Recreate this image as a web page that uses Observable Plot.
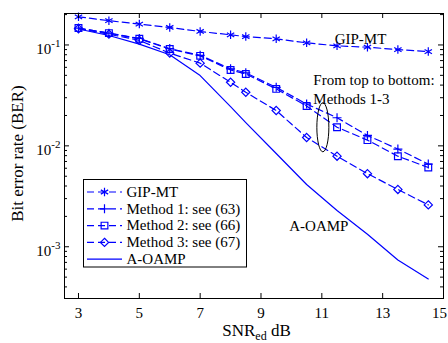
<!DOCTYPE html>
<html><head><meta charset="utf-8">
<script src="https://cdn.jsdelivr.net/npm/d3@7"></script>
<script src="https://cdn.jsdelivr.net/npm/@observablehq/plot@0.6"></script>
<style>
html,body{margin:0;padding:0;background:#fff;}
#chart{width:448px;height:343px;overflow:hidden;}
svg{display:block;}
#chart svg, #chart svg text, #chart svg tspan{font-family:"Liberation Serif","Times New Roman",Times,Tinos,"DejaVu Serif",serif !important;}
</style></head><body><div id="chart"></div>
<script>
const snr = [3,4,5,6,7,8,8.5,9.5,10.5,11.5,12.5,13.5,14.5];
const gipMT = [0.19,0.174,0.161,0.149,0.136,0.126,0.121,0.115,0.105,0.098,0.095,0.090,0.086];
const method1 = [0.147,0.131,0.116,0.092,0.079,0.058,0.053,0.038,0.026,0.019,0.0127,0.0093,0.0066];
const method2 = [0.147,0.131,0.115,0.091,0.078,0.0565,0.0516,0.0367,0.0248,0.0153,0.0114,0.0079,0.0061];
const method3 = [0.145,0.128,0.111,0.083,0.066,0.0427,0.034,0.0224,0.0121,0.0079,0.0053,0.0037,0.0026];
const aOAMP = [0.144,0.124,0.102,0.080,0.0497,0.0245,0.0170,0.0084,0.00414,0.00229,0.00133,0.00074,0.00048];
const seriesNames = ["GIP-MT","Method 1: see (63)","Method 2: see (66)","Method 3: see (67)","A-OAMP"];
const xTicks = [3,5,7,9,11,13,15];
const yMajor = [1e-3,1e-2,1e-1];
const yMinorFactors = [2,3,4,5,6,7,8,9];

const W = 448, H = 343, mL = 64, mR = 5, mT = 13, mB = 45;
const FW = W - mL - mR, FH = H - mT - mB;
const yDomain = [3.07e-4, 0.205];
const yMinor = [];
for (const dec of [1e-4,1e-3,1e-2,1e-1]) for (const f of yMinorFactors) {
  const v = f*dec; if (v >= yDomain[0] && v <= yDomain[1]) yMinor.push(v);
}
const blue = "#0000ff";
const FONT = '"Liberation Serif","Times New Roman",Times,serif';

const seriesVals = [gipMT, method1, method2, method3, aOAMP];
const symbols = ["asterisk","plus","square","diamond2",null];
const radii = [4, 3, 3.8, 3.7, 0];
const toRows = (vals) => snr.map((x,i) => ({x, y: vals[i]}));

const marks = [];
seriesVals.forEach((vals, k) => {
  marks.push(Plot.line(toRows(vals), {x:"x", y:"y", stroke: blue, strokeWidth: 1.2,
    strokeDasharray: k < 4 ? "7,4" : null}));
});
seriesVals.forEach((vals, k) => {
  if (!symbols[k]) return;
  marks.push(Plot.dot(toRows(vals), {x:"x", y:"y", symbol: symbols[k], r: radii[k],
    stroke: blue, fill: "none", strokeWidth: 1.2}));
});
// inward ticks
marks.push(Plot.tickY(yMajor, {y: d=>d, insetRight: FW-5, stroke:"black"}));
marks.push(Plot.tickY(yMajor, {y: d=>d, insetLeft: FW-5, stroke:"black"}));
marks.push(Plot.tickY(yMinor, {y: d=>d, insetRight: FW-3, stroke:"black"}));
marks.push(Plot.tickY(yMinor, {y: d=>d, insetLeft: FW-3, stroke:"black"}));
marks.push(Plot.tickX(xTicks, {x: d=>d, insetTop: FH-5, stroke:"black"}));
marks.push(Plot.tickX(xTicks, {x: d=>d, insetBottom: FH-5, stroke:"black"}));
marks.push(Plot.frame({stroke:"black", strokeWidth: 1}));
marks.push(Plot.axisX(xTicks, {tickSize: 0, tickPadding: 9, fontSize: 15, label: null}));
marks.push(Plot.axisY(yMajor, {tickSize: 0, tickPadding: 4, fontSize: 15, label: null,
  tickFormat: d => "10^" + Math.round(Math.log10(d))}));
// annotations
marks.push(Plot.text(["GIP-MT"], {x: 12.27, y: 0.113, text: d=>d, fontSize: 15, fill:"black", textAnchor:"middle"}));
marks.push(Plot.text(["From top to bottom:"], {x: 10.72, y: 0.0443, text: d=>d, fontSize: 15, fill:"black", textAnchor:"start"}));
marks.push(Plot.text(["Methods 1-3"], {x: 10.72, y: 0.0293, text: d=>d, fontSize: 15, fill:"black", textAnchor:"start"}));
marks.push(Plot.text(["A-OAMP"], {x: 9.93, y: 0.00161, text: d=>d, fontSize: 15, fill:"black", textAnchor:"start"}));

const plot = Plot.plot({
  width: W, height: H,
  marginLeft: mL, marginRight: mR, marginTop: mT, marginBottom: mB,
  style: {fontSize: "15px", background: "white", color: "black", overflow: "visible"},
  x: {domain: [2.54, 15]},
  y: {type: "log", domain: yDomain},
  marks
});
document.getElementById("chart").appendChild(plot);
const svg = d3.select(plot);
const xs = plot.scale("x"), ys = plot.scale("y");

// superscripts on y tick labels
svg.selectAll('g[aria-label="y-axis tick label"] text').each(function(){
  const t = this.textContent; const parts = t.split("^");
  const el = d3.select(this); el.text("");
  el.append("tspan").attr("dy", 4).text(parts[0]);
  el.append("tspan").attr("dy", -7).attr("font-size", 11).text(parts[1]);
});
// keep the last x tick label inside the picture
const xl = svg.selectAll('g[aria-label="x-axis tick label"] text').nodes();
if (xl.length) d3.select(xl[xl.length - 1]).attr("dx", -4);

// ellipse annotation
svg.append("ellipse").attr("cx", xs.apply(11.05)).attr("cy", ys.apply(0.0151))
  .attr("rx", 6).attr("ry", 24.5).attr("fill","none").attr("stroke","black").attr("stroke-width",1);

// axis titles
const xt = svg.append("text").attr("x", (mL + W - mR)/2 + 3).attr("y", 335.5)
  .attr("text-anchor","middle").attr("font-family", FONT).attr("font-size", 17).attr("fill","black");
xt.append("tspan").text("SNR");
xt.append("tspan").attr("dy", 4).attr("font-size", 12).text("ed");
xt.append("tspan").attr("dy", -4).text(" dB");
svg.append("text").attr("transform", `translate(23,${(mT + H - mB)/2 - 2}) rotate(-90)`)
  .attr("text-anchor","middle").attr("font-family", FONT).attr("font-size", 17).attr("fill","black")
  .text("Bit error rate (BER)");

// legend
const lg = svg.append("g").attr("font-family", FONT).attr("font-size", 15).attr("text-anchor","start");
lg.append("rect").attr("x", 83.5).attr("y", 179.5).attr("width", 163).attr("height", 87.5)
  .attr("fill","white").attr("stroke","black").attr("stroke-width",1);
const rowY = [192, 208.8, 225.6, 242.4, 259.2];
const d3sym = {asterisk: d3.symbolAsterisk, plus: d3.symbolPlus, square: d3.symbolSquare, diamond2: d3.symbolDiamond2};
seriesNames.forEach((name, k) => {
  const y = rowY[k];
  lg.append("line").attr("x1", 87).attr("x2", 122).attr("y1", y).attr("y2", y)
    .attr("stroke", blue).attr("stroke-width", 1.2).attr("stroke-dasharray", k < 4 ? "7,4" : null);
  if (symbols[k]) {
    lg.append("path").attr("d", d3.symbol(d3sym[symbols[k]], radii[k]*radii[k]*Math.PI)())
      .attr("transform", `translate(104.5,${y})`).attr("fill","none").attr("stroke", blue).attr("stroke-width",1.2);
  }
  lg.append("text").attr("x", 126.5).attr("y", y).attr("dy", "0.32em").attr("text-anchor","start")
    .attr("fill","black").text(name);
});
</script></body></html>
